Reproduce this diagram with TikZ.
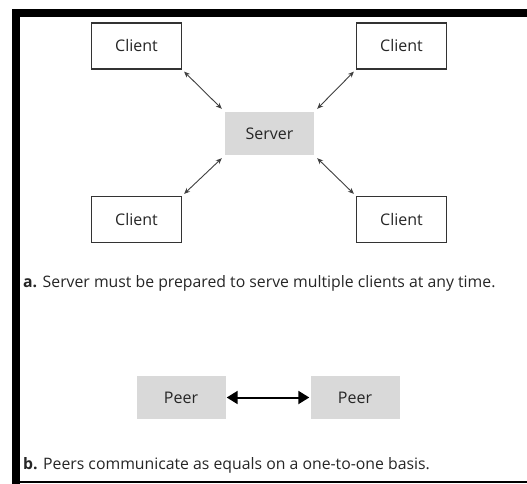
\documentclass[tikz,border=0pt]{standalone}
\usepackage{fontspec}
\setmainfont{Open Sans}
\usetikzlibrary{arrows.meta}
\definecolor{boxgray}{HTML}{D9D9D9}
\definecolor{txt}{HTML}{262626}
\begin{document}
\begin{tikzpicture}[x=1pt,y=-1pt,
  clientbox/.style={draw=black!80, line width=1.2pt, minimum width=90pt, minimum height=46pt, inner sep=0pt, font=\fontsize{16}{19}\selectfont, text=txt},
  graybox/.style={fill=boxgray, minimum width=89pt, minimum height=43pt, inner sep=0pt, font=\fontsize{16}{19}\selectfont, text=txt},
  thinarrow/.style={draw=black!75, line width=0.9pt, {Stealth[length=6pt,width=5pt]}-{Stealth[length=6pt,width=5pt]}},
  thickarrow/.style={draw=black, line width=2pt, {Triangle[length=11pt,width=13pt]}-{Triangle[length=11pt,width=13pt]}},
  caption/.style={anchor=west, inner sep=0pt, font=\fontsize{15.8}{19}\selectfont, text=txt}]
\useasboundingbox (0,0) rectangle (527,484);
\fill[white] (0,0) rectangle (527,484);
% frame
\fill[black] (12,9) rectangle (527,17);
\fill[black] (12,9) rectangle (20,484);
\draw[black, line width=1.5pt] (12,482) -- (527,482);
% nodes
\node[clientbox] (tl) at (136.5,46) {Client};
\node[clientbox] (tr) at (401.5,46) {Client};
\node[clientbox] (bl) at (136.5,219.5) {Client};
\node[clientbox] (br) at (401.5,219.5) {Client};
\node[graybox] (srv) at (269.5,133.5) {Server};
\node[graybox] (p1) at (181,397.5) {Peer};
\node[graybox] (p2) at (355,397.5) {Peer};
% connectors
\draw[thinarrow] ([shift={(2,2)}]tl.south east) -- ([shift={(-3,-3)}]srv.north west);
\draw[thinarrow] ([shift={(-2,2)}]tr.south west) -- ([shift={(3,-3)}]srv.north east);
\draw[thinarrow] ([shift={(2,-2)}]bl.north east) -- ([shift={(-3,3)}]srv.south west);
\draw[thinarrow] ([shift={(-2,-2)}]br.north west) -- ([shift={(3,3)}]srv.south east);
\draw[thickarrow] ([xshift=1pt]p1.east) -- ([xshift=-1pt]p2.west);
% captions
\node[caption] (capa) at (23,283) {\textbf{a.} Server must be prepared to serve multiple clients at any\ time.};
\node[caption] (capb) at (23,465) {\textbf{b.} Peers communicate as equals on a one-to-one\ basis.};
\end{tikzpicture}
\end{document}
